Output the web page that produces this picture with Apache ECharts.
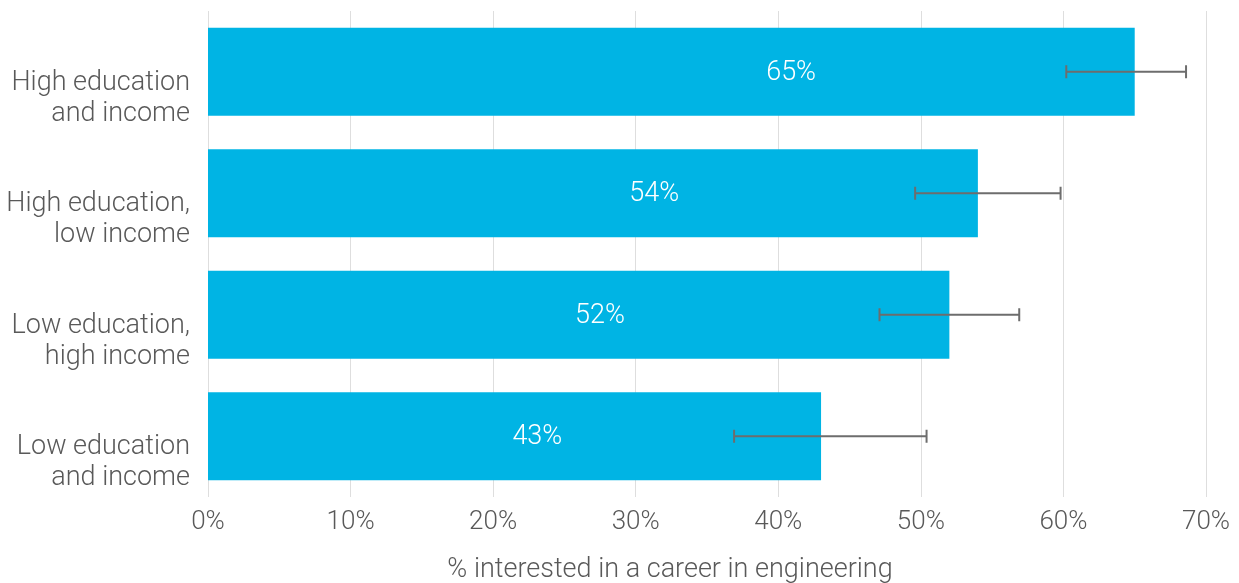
<!DOCTYPE html>
<html><head><meta charset="utf-8">
<script src="https://cdn.jsdelivr.net/npm/echarts@6/dist/echarts.min.js"></script>
<style>html,body{margin:0;padding:0;background:#fff}#c{width:1239px;height:583px}</style>
</head><body><div id="c"></div>
<script>
const categories = ['High education\nand income', 'High education,\nlow income', 'Low education,\nhigh income', 'Low education\nand income'];
const values = [65, 54, 52, 43];
const errLow = [60.2, 49.6, 47.1, 36.9];
const errHigh = [68.6, 59.8, 56.9, 50.4];
const labelAt = [40.9, 31.3, 27.5, 23.1];
const xTicks = [0, 10, 20, 30, 40, 50, 60, 70];

const FONT = 'Roboto';
const chart = echarts.init(document.getElementById('c'));
chart.setOption({
  animation: false,
  grid: { left: 208, right: 33, top: 11, bottom: 86, containLabel: false, outerBoundsMode: 'none' },
  xAxis: {
    type: 'value', min: xTicks[0], max: xTicks[xTicks.length - 1], interval: xTicks[1] - xTicks[0],
    name: '% interested in a career in engineering',
    nameLocation: 'middle', nameGap: 60,
    nameTextStyle: { fontFamily: FONT, fontWeight: 300, fontSize: 27, color: '#595959', padding: [0, 74, 0, 0] },
    axisLine: { show: false }, axisTick: { show: false },
    axisLabel: { formatter: v => v + '%', fontFamily: FONT, fontWeight: 300, fontSize: 26, color: '#595959', margin: 12 },
    splitLine: { show: true, lineStyle: { color: '#dedede', width: 1 } }
  },
  yAxis: {
    type: 'category', data: categories, inverse: true,
    axisLine: { show: false }, axisTick: { show: false },
    axisLabel: {
      margin: 18, align: 'right',
      formatter: v => '{s| }\n' + v.split('\n').map(l => '{t|' + l + '}').join('\n'),
      rich: {
        s: { fontSize: 10, lineHeight: 53, height: 53 },
        t: { fontFamily: FONT, fontWeight: 300, fontSize: 27, color: '#595959', lineHeight: 31, align: 'right' }
      }
    },
    splitLine: { show: false }
  },
  series: [
    {
      type: 'bar', data: values, barWidth: 88,
      itemStyle: { color: '#00B4E4' },
      label: { show: false }
    },
    {
      type: 'custom',
      data: values.map((v, i) => [i, errLow[i], errHigh[i], labelAt[i], v]),
      renderItem: function (params, api) {
        const i = api.value(0);
        const p1 = api.coord([api.value(1), i]);
        const p2 = api.coord([api.value(2), i]);
        const pl = api.coord([api.value(3), i]);
        const cap = 6.5;
        const st = { stroke: '#6d6d6d', lineWidth: 2 };
        return {
          type: 'group',
          children: [
            { type: 'line', shape: { x1: p1[0], y1: p1[1], x2: p2[0], y2: p2[1] }, style: st },
            { type: 'line', shape: { x1: p1[0], y1: p1[1] - cap, x2: p1[0], y2: p1[1] + cap }, style: st },
            { type: 'line', shape: { x1: p2[0], y1: p2[1] - cap, x2: p2[0], y2: p2[1] + cap }, style: st },
            { type: 'text', x: pl[0], y: pl[1] + 1, style: { text: api.value(4) + '%', fill: '#fff', font: '300 27px Roboto', textAlign: 'center', textVerticalAlign: 'middle' } }
          ]
        };
      },
      z: 5
    }
  ]
});
</script></body></html>
